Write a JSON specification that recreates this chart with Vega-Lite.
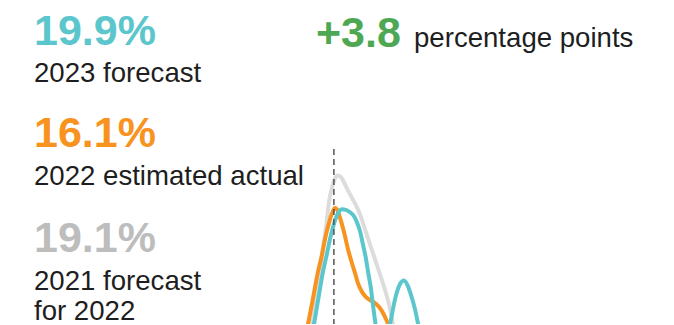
{
  "$schema": "https://vega.github.io/schema/vega-lite/v6.json",
  "width": 674,
  "height": 325,
  "autosize": {"type": "fit", "contains": "padding"},
  "padding": 0,
  "background": "#ffffff",
  "config": {"view": {"stroke": null}, "font": "Liberation Sans"},
  "datasets": {
    "figures": [
      {"series": "2023 forecast", "rate": 19.9, "caption": "2023 forecast"},
      {"series": "2022 estimated actual", "rate": 16.1, "caption": "2022 estimated actual"},
      {"series": "2021 forecast for 2022", "rate": 19.1, "caption": "2021 forecast\nfor 2022"}
    ],
    "shift": [
      {"from": "2022 estimated actual", "to": "2023 forecast", "points": 3.8}
    ],
    "curves": [
      {"series": "2021 forecast for 2022", "rate": 14.47, "density": 2.15},
      {"series": "2021 forecast for 2022", "rate": 14.76, "density": 3.46},
      {"series": "2021 forecast for 2022", "rate": 15.04, "density": 5.54},
      {"series": "2021 forecast for 2022", "rate": 15.33, "density": 8.08},
      {"series": "2021 forecast for 2022", "rate": 15.53, "density": 10.38},
      {"series": "2021 forecast for 2022", "rate": 15.72, "density": 12.46},
      {"series": "2021 forecast for 2022", "rate": 15.86, "density": 14.38},
      {"series": "2021 forecast for 2022", "rate": 16.01, "density": 15.54},
      {"series": "2021 forecast for 2022", "rate": 16.15, "density": 16.23},
      {"series": "2021 forecast for 2022", "rate": 16.30, "density": 16.46},
      {"series": "2021 forecast for 2022", "rate": 16.49, "density": 16.23},
      {"series": "2021 forecast for 2022", "rate": 16.68, "density": 15.62},
      {"series": "2021 forecast for 2022", "rate": 16.88, "density": 15.0},
      {"series": "2021 forecast for 2022", "rate": 17.12, "density": 14.31},
      {"series": "2021 forecast for 2022", "rate": 17.36, "density": 13.46},
      {"series": "2021 forecast for 2022", "rate": 17.60, "density": 12.31},
      {"series": "2021 forecast for 2022", "rate": 17.84, "density": 11.15},
      {"series": "2021 forecast for 2022", "rate": 18.08, "density": 10.0},
      {"series": "2021 forecast for 2022", "rate": 18.32, "density": 8.85},
      {"series": "2021 forecast for 2022", "rate": 18.61, "density": 7.38},
      {"series": "2021 forecast for 2022", "rate": 18.81, "density": 6.15},
      {"series": "2021 forecast for 2022", "rate": 18.95, "density": 5.0},
      {"series": "2021 forecast for 2022", "rate": 19.14, "density": 3.69},
      {"series": "2021 forecast for 2022", "rate": 19.38, "density": 2.46},

      {"series": "2022 estimated actual", "rate": 14.37, "density": 2.15},
      {"series": "2022 estimated actual", "rate": 14.66, "density": 3.85},
      {"series": "2022 estimated actual", "rate": 14.85, "density": 5.0},
      {"series": "2022 estimated actual", "rate": 15.04, "density": 6.54},
      {"series": "2022 estimated actual", "rate": 15.33, "density": 9.0},
      {"series": "2022 estimated actual", "rate": 15.53, "density": 10.38},
      {"series": "2022 estimated actual", "rate": 15.67, "density": 11.54},
      {"series": "2022 estimated actual", "rate": 15.86, "density": 12.77},
      {"series": "2022 estimated actual", "rate": 16.01, "density": 13.54},
      {"series": "2022 estimated actual", "rate": 16.15, "density": 13.96},
      {"series": "2022 estimated actual", "rate": 16.25, "density": 13.85},
      {"series": "2022 estimated actual", "rate": 16.39, "density": 13.23},
      {"series": "2022 estimated actual", "rate": 16.59, "density": 12.08},
      {"series": "2022 estimated actual", "rate": 16.78, "density": 10.77},
      {"series": "2022 estimated actual", "rate": 16.97, "density": 9.69},
      {"series": "2022 estimated actual", "rate": 17.12, "density": 8.92},
      {"series": "2022 estimated actual", "rate": 17.26, "density": 8.15},
      {"series": "2022 estimated actual", "rate": 17.46, "density": 7.46},
      {"series": "2022 estimated actual", "rate": 17.65, "density": 7.08},
      {"series": "2022 estimated actual", "rate": 17.84, "density": 6.85},
      {"series": "2022 estimated actual", "rate": 18.08, "density": 6.62},
      {"series": "2022 estimated actual", "rate": 18.28, "density": 6.31},
      {"series": "2022 estimated actual", "rate": 18.47, "density": 5.85},
      {"series": "2022 estimated actual", "rate": 18.61, "density": 5.38},
      {"series": "2022 estimated actual", "rate": 18.76, "density": 4.77},
      {"series": "2022 estimated actual", "rate": 18.95, "density": 3.46},

      {"series": "2023 forecast", "rate": 14.66, "density": 1.92},
      {"series": "2023 forecast", "rate": 14.95, "density": 3.69},
      {"series": "2023 forecast", "rate": 15.14, "density": 5.0},
      {"series": "2023 forecast", "rate": 15.33, "density": 6.77},
      {"series": "2023 forecast", "rate": 15.57, "density": 9.0},
      {"series": "2023 forecast", "rate": 15.77, "density": 10.46},
      {"series": "2023 forecast", "rate": 15.91, "density": 11.54},
      {"series": "2023 forecast", "rate": 16.11, "density": 12.77},
      {"series": "2023 forecast", "rate": 16.30, "density": 13.54},
      {"series": "2023 forecast", "rate": 16.49, "density": 13.85},
      {"series": "2023 forecast", "rate": 16.68, "density": 13.81},
      {"series": "2023 forecast", "rate": 16.88, "density": 13.62},
      {"series": "2023 forecast", "rate": 17.07, "density": 13.31},
      {"series": "2023 forecast", "rate": 17.21, "density": 12.85},
      {"series": "2023 forecast", "rate": 17.36, "density": 12.15},
      {"series": "2023 forecast", "rate": 17.50, "density": 11.15},
      {"series": "2023 forecast", "rate": 17.65, "density": 10.0},
      {"series": "2023 forecast", "rate": 17.75, "density": 9.0},
      {"series": "2023 forecast", "rate": 17.89, "density": 7.69},
      {"series": "2023 forecast", "rate": 17.99, "density": 6.38},
      {"series": "2023 forecast", "rate": 18.11, "density": 5.0},
      {"series": "2023 forecast", "rate": 18.23, "density": 4.0},
      {"series": "2023 forecast", "rate": 18.42, "density": 3.38},
      {"series": "2023 forecast", "rate": 18.61, "density": 3.69},
      {"series": "2023 forecast", "rate": 18.81, "density": 5.0},
      {"series": "2023 forecast", "rate": 19.05, "density": 6.92},
      {"series": "2023 forecast", "rate": 19.29, "density": 8.08},
      {"series": "2023 forecast", "rate": 19.48, "density": 8.35},
      {"series": "2023 forecast", "rate": 19.67, "density": 7.92},
      {"series": "2023 forecast", "rate": 19.82, "density": 7.23},
      {"series": "2023 forecast", "rate": 20.01, "density": 6.15},
      {"series": "2023 forecast", "rate": 20.16, "density": 5.0},
      {"series": "2023 forecast", "rate": 20.30, "density": 3.85}
    ]
  },
  "encoding": {
    "x": {"type": "quantitative", "scale": {"domain": [0, 32.5]}, "axis": null},
    "y": {"type": "quantitative", "scale": {"domain": [5, 30]}, "axis": null}
  },
  "layer": [
    {
      "data": {"name": "curves"},
      "transform": [{"filter": "datum.series === '2021 forecast for 2022'"}],
      "mark": {"type": "line", "interpolate": "monotone", "strokeWidth": 4, "color": "#dcdcdc", "clip": true},
      "encoding": {"x": {"field": "rate", "type": "quantitative"}, "y": {"field": "density", "type": "quantitative"}}
    },
    {
      "data": {"name": "curves"},
      "transform": [{"filter": "datum.series === '2022 estimated actual'"}],
      "mark": {"type": "line", "interpolate": "monotone", "strokeWidth": 4, "color": "#f7931e", "clip": true},
      "encoding": {"x": {"field": "rate", "type": "quantitative"}, "y": {"field": "density", "type": "quantitative"}}
    },
    {
      "data": {"name": "curves"},
      "transform": [{"filter": "datum.series === '2023 forecast'"}],
      "mark": {"type": "line", "interpolate": "monotone", "strokeWidth": 4, "color": "#5bc6cc", "clip": true},
      "encoding": {"x": {"field": "rate", "type": "quantitative"}, "y": {"field": "density", "type": "quantitative"}}
    },
    {
      "data": {"name": "figures"},
      "transform": [{"filter": "datum.series === '2022 estimated actual'"}],
      "mark": {"type": "rule", "color": "#555555", "strokeWidth": 1.5, "strokeDash": [6, 4], "clip": true},
      "encoding": {
        "x": {"field": "rate", "type": "quantitative"},
        "y": {"datum": 18.5},
        "y2": {"datum": 5}
      }
    },
    {
      "data": {"name": "figures"},
      "transform": [
        {"filter": "datum.series === '2023 forecast'"},
        {"calculate": "format(datum.rate, '.1f') + '%'", "as": "label"}
      ],
      "mark": {"type": "text", "x": 34, "y": 45, "align": "left", "baseline": "alphabetic", "fontSize": 43, "fontWeight": "bold", "color": "#5bc6cc"},
      "encoding": {"text": {"field": "label"}}
    },
    {
      "data": {"name": "figures"},
      "transform": [{"filter": "datum.series === '2023 forecast'"}],
      "mark": {"type": "text", "x": 34, "y": 82, "align": "left", "baseline": "alphabetic", "fontSize": 27.6, "color": "#1e1e1e"},
      "encoding": {"text": {"field": "caption"}}
    },
    {
      "data": {"name": "figures"},
      "transform": [
        {"filter": "datum.series === '2022 estimated actual'"},
        {"calculate": "format(datum.rate, '.1f') + '%'", "as": "label"}
      ],
      "mark": {"type": "text", "x": 34, "y": 147, "align": "left", "baseline": "alphabetic", "fontSize": 43, "fontWeight": "bold", "color": "#f7931e"},
      "encoding": {"text": {"field": "label"}}
    },
    {
      "data": {"name": "figures"},
      "transform": [{"filter": "datum.series === '2022 estimated actual'"}],
      "mark": {"type": "text", "x": 34, "y": 185, "align": "left", "baseline": "alphabetic", "fontSize": 27.6, "color": "#1e1e1e"},
      "encoding": {"text": {"field": "caption"}}
    },
    {
      "data": {"name": "figures"},
      "transform": [
        {"filter": "datum.series === '2021 forecast for 2022'"},
        {"calculate": "format(datum.rate, '.1f') + '%'", "as": "label"}
      ],
      "mark": {"type": "text", "x": 34, "y": 252, "align": "left", "baseline": "alphabetic", "fontSize": 43, "fontWeight": "bold", "color": "#bdbdbd"},
      "encoding": {"text": {"field": "label"}}
    },
    {
      "data": {"name": "figures"},
      "transform": [{"filter": "datum.series === '2021 forecast for 2022'"}],
      "mark": {"type": "text", "x": 34, "y": 290, "align": "left", "baseline": "alphabetic", "fontSize": 27.6, "lineHeight": 30, "lineBreak": "\n", "color": "#1e1e1e"},
      "encoding": {"text": {"field": "caption"}}
    },
    {
      "data": {"name": "shift"},
      "transform": [{"calculate": "format(datum.points, '+.1f')", "as": "label"}],
      "mark": {"type": "text", "x": 316, "y": 47, "align": "left", "baseline": "alphabetic", "fontSize": 43, "fontWeight": "bold", "color": "#4ea853"},
      "encoding": {"text": {"field": "label"}}
    },
    {
      "data": {"name": "shift"},
      "mark": {"type": "text", "x": 414, "y": 47, "align": "left", "baseline": "alphabetic", "fontSize": 27.6, "color": "#1e1e1e", "text": "percentage points"},
      "encoding": {}
    }
  ]
}
